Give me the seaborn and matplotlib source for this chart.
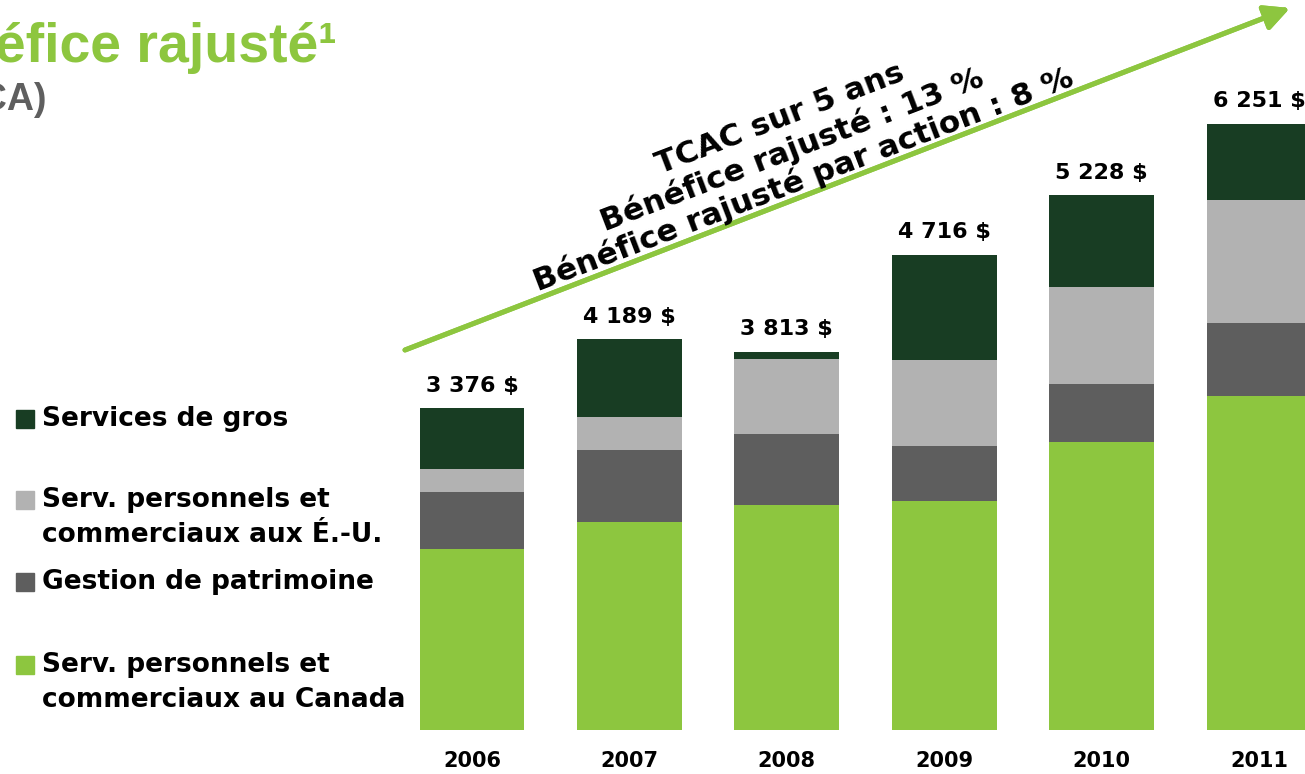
import matplotlib
matplotlib.use('Agg')
import matplotlib.pyplot as plt
import seaborn as sns
import pandas as pd
from matplotlib.patches import Rectangle

sns.set_style('white')
plt.rcParams['font.family'] = ['DejaVu Sans']
plt.rcParams['text.color'] = 'black'
plt.rcParams['xtick.color'] = 'black'

# data (millions $ CA)
years = ['2006', '2007', '2008', '2009', '2010', '2011']
canada = [1864, 2142, 2318, 2359, 2966, 3440]
wealth = [587, 742, 731, 567, 597, 752]
us = [237, 340, 773, 886, 999, 1267]
wholesale = [628, 803, 72, 1082, 948, 783]
total_labels = ['3 376 $', '4 189 $', '3 813 $', '4 716 $', '5 228 $', '6 251 $']

segments = ['Services de gros', 'Serv. personnels et\ncommerciaux aux É.-U.',
            'Gestion de patrimoine', 'Serv. personnels et\ncommerciaux au Canada']

GREEN = '#8dc63f'
DARK = '#183d23'
LIGHT = '#b2b2b2'
MID = '#5e5e5e'

W, H = 1305, 774


def fx(px):
    return px / W


def fy(py):
    return 1 - py / H


def main():
    df = pd.DataFrame({'year': years, 'canada': canada, 'wealth': wealth,
                       'us': us, 'wholesale': wholesale})
    df['s1'] = df['canada']
    df['s2'] = df['s1'] + df['wealth']
    df['s3'] = df['s2'] + df['us']
    df['s4'] = df['s3'] + df['wholesale']

    fig = plt.figure(figsize=(W / 100, H / 100), dpi=100)
    left = 393.3
    ax = fig.add_axes([fx(left), 44 / H, (W - left) / W, 730 / H])

    # overlay cumulative bars, tallest first
    for col, color in [('s4', DARK), ('s3', LIGHT), ('s2', MID), ('s1', GREEN)]:
        sns.barplot(data=df, x='year', y=col, color=color, saturation=1,
                    width=0.667, ax=ax, linewidth=0)

    ax.set_xlim(-0.5, 5.292)
    ax.set_ylim(0, 730 * 10.3)
    sns.despine(ax=ax, left=True, bottom=True)
    ax.set_yticks([])
    ax.set_xlabel('')
    ax.set_ylabel('')
    ax.tick_params(axis='x', length=0, pad=15)
    for lab in ax.get_xticklabels():
        lab.set_fontsize(15)
        lab.set_fontweight('bold')

    for i, (top, lab) in enumerate(zip(df['s4'], total_labels)):
        ax.annotate(lab, (i, top), xytext=(0, 9), textcoords='offset points',
                    ha='center', va='bottom', fontsize=16, fontweight='bold',
                    annotation_clip=False)

    # title (partly off the slide on the left)
    fig.text(fx(337), fy(62), 'Bénéfice rajusté¹', ha='right', va='baseline',
             color=GREEN, fontsize=40, fontweight='bold', family='Liberation Sans')
    fig.text(fx(47), fy(110), '(en millions de $ CA)', ha='right', va='baseline',
             color='#5f5f5f', fontsize=27, fontweight='bold', family='Liberation Sans')

    # growth arrow
    fig.add_artist(plt.annotate('', xy=(fx(1290), fy(8)), xytext=(fx(405), fy(350)),
                                xycoords='figure fraction', textcoords='figure fraction',
                                arrowprops=dict(arrowstyle='-|>', color=GREEN, lw=3.6,
                                                mutation_scale=38, shrinkA=0, shrinkB=0)))
    fig.text(fx(792), fy(150),
             'TCAC sur 5 ans\nBénéfice rajusté : 13 %\nBénéfice rajusté par action : 8 %',
             rotation=21, rotation_mode='anchor', ha='center', va='center',
             multialignment='center', fontsize=22.5, fontweight='bold', linespacing=1.1)

    # legend drawn by hand (uneven spacing as on the slide)
    leg_colors = [DARK, LIGHT, MID, GREEN]
    leg_y = [419, 500, 582, 665]
    for label, color, y in zip(segments, leg_colors, leg_y):
        fig.add_artist(Rectangle((fx(16), fy(y + 9)), 18 / W, 18 / H, color=color,
                                 transform=fig.transFigure))
        for k, line in enumerate(label.split('\n')):
            fig.text(fx(42), fy(y + 35 * k), line, ha='left', va='center',
                     fontsize=19, fontweight='bold')

    fig.savefig('out.png', dpi=100)


if __name__ == '__main__':
    main()
